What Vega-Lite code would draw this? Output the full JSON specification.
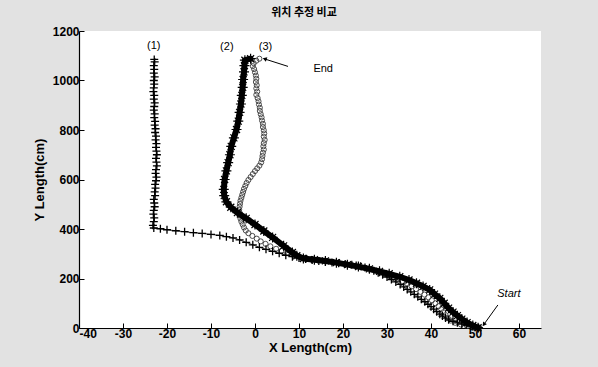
{
"$schema":"https://vega.github.io/schema/vega-lite/v6.json",
"width":462,"height":297,
"autosize":{"type":"none"},
"padding":{"left":79,"top":31,"right":57,"bottom":39},
"background":"#e2e2e2",
"view":{"fill":"white","stroke":null},
"title":{"text":"위치 추정 비교","font":"Noto Sans CJK KR","fontSize":11,"fontWeight":"bold","anchor":"middle","offset":7,"dx":-6,"color":"black"},
"config":{"axis":{"grid":false,"domainColor":"black","domainWidth":1.2,"tickColor":"black","tickSize":-5,"labelColor":"black","labelFont":"Liberation Sans","labelFontSize":12,"labelFontWeight":"bold","labelPadding":5,"labelExpr":"'' + datum.value","titleColor":"black","titleFont":"Liberation Sans","titleFontSize":13,"titleFontWeight":"bold"}},
"datasets":{
"traj":[
{"s":"1","x":50.8,"y":1},{"s":"1","x":50,"y":4},{"s":"1","x":49,"y":8},{"s":"1","x":48,"y":12},{"s":"1","x":47,"y":16},{"s":"1","x":46,"y":21},{"s":"1","x":45,"y":27},{"s":"1","x":44,"y":33},{"s":"1","x":43.3,"y":40},{"s":"1","x":42.6,"y":48},{"s":"1","x":42,"y":56},{"s":"1","x":41.3,"y":66},{"s":"1","x":40.6,"y":76},{"s":"1","x":40,"y":86},{"s":"1","x":39.3,"y":96},{"s":"1","x":38.6,"y":106},{"s":"1","x":37.8,"y":116},{"s":"1","x":37,"y":126},{"s":"1","x":36.2,"y":136},{"s":"1","x":35.4,"y":146},{"s":"1","x":34.6,"y":156},{"s":"1","x":33.8,"y":166},{"s":"1","x":33,"y":176},{"s":"1","x":32,"y":186},{"s":"1","x":31,"y":196},{"s":"1","x":30,"y":206},{"s":"1","x":29,"y":215},{"s":"1","x":28,"y":223},{"s":"1","x":27,"y":231},{"s":"1","x":26,"y":238},{"s":"1","x":25,"y":244},{"s":"1","x":24,"y":249},{"s":"1","x":23,"y":253},{"s":"1","x":22,"y":256},{"s":"1","x":20.5,"y":259},{"s":"1","x":19,"y":262},{"s":"1","x":17.5,"y":265},{"s":"1","x":16,"y":268},{"s":"1","x":14.5,"y":271},{"s":"1","x":13,"y":275},{"s":"1","x":11.5,"y":279},{"s":"1","x":10,"y":283},{"s":"1","x":8.5,"y":288},{"s":"1","x":7,"y":294},{"s":"1","x":5.5,"y":302},{"s":"1","x":4,"y":310},{"s":"1","x":2.5,"y":318},{"s":"1","x":1,"y":326},{"s":"1","x":-0.5,"y":336},{"s":"1","x":-2,"y":346},{"s":"1","x":-3.5,"y":356},{"s":"1","x":-5,"y":364},{"s":"1","x":-6.5,"y":369},{"s":"1","x":-8,"y":374},{"s":"1","x":-10,"y":378},{"s":"1","x":-12,"y":382},{"s":"1","x":-14,"y":385},{"s":"1","x":-16,"y":389},{"s":"1","x":-18,"y":393},{"s":"1","x":-20,"y":397},{"s":"1","x":-21.5,"y":401},{"s":"1","x":-23,"y":404},
{"s":"1","x":-23.2,"y":415},{"s":"1","x":-23,"y":430},{"s":"1","x":-22.9,"y":445},{"s":"1","x":-23.1,"y":460},{"s":"1","x":-23,"y":475},{"s":"1","x":-22.8,"y":490},{"s":"1","x":-22.9,"y":505},{"s":"1","x":-23,"y":520},{"s":"1","x":-22.7,"y":535},{"s":"1","x":-22.8,"y":550},{"s":"1","x":-22.6,"y":565},{"s":"1","x":-22.7,"y":580},{"s":"1","x":-22.5,"y":595},{"s":"1","x":-22.4,"y":610},{"s":"1","x":-22.6,"y":625},{"s":"1","x":-22.5,"y":640},{"s":"1","x":-22.3,"y":655},{"s":"1","x":-22.4,"y":670},{"s":"1","x":-22.5,"y":685},{"s":"1","x":-22.3,"y":700},{"s":"1","x":-22.4,"y":715},{"s":"1","x":-22.5,"y":730},{"s":"1","x":-22.4,"y":745},{"s":"1","x":-22.6,"y":760},{"s":"1","x":-22.5,"y":775},{"s":"1","x":-22.7,"y":790},{"s":"1","x":-22.6,"y":805},{"s":"1","x":-22.8,"y":820},{"s":"1","x":-22.7,"y":835},{"s":"1","x":-22.9,"y":850},{"s":"1","x":-22.8,"y":865},{"s":"1","x":-23,"y":880},{"s":"1","x":-22.9,"y":895},{"s":"1","x":-22.8,"y":910},{"s":"1","x":-23,"y":925},{"s":"1","x":-22.9,"y":940},{"s":"1","x":-23.1,"y":955},{"s":"1","x":-23,"y":970},{"s":"1","x":-22.9,"y":985},{"s":"1","x":-23,"y":1000},{"s":"1","x":-22.8,"y":1015},{"s":"1","x":-23,"y":1030},{"s":"1","x":-22.9,"y":1045},{"s":"1","x":-23,"y":1060},{"s":"1","x":-22.8,"y":1075},{"s":"1","x":-22.9,"y":1085},
{"s":"2","x":50.7,"y":1},{"s":"2","x":49.5,"y":10},{"s":"2","x":48.2,"y":22},{"s":"2","x":47,"y":36},{"s":"2","x":46,"y":50},{"s":"2","x":45,"y":64},{"s":"2","x":44,"y":80},{"s":"2","x":43,"y":100},{"s":"2","x":42,"y":120},{"s":"2","x":40.8,"y":137},{"s":"2","x":39.7,"y":154},{"s":"2","x":38.2,"y":168},{"s":"2","x":36.7,"y":181},{"s":"2","x":35,"y":194},{"s":"2","x":32.9,"y":207},{"s":"2","x":30.5,"y":219},{"s":"2","x":28.3,"y":229},{"s":"2","x":26,"y":239},{"s":"2","x":23.5,"y":248},{"s":"2","x":21,"y":256},{"s":"2","x":18.5,"y":264},{"s":"2","x":16,"y":271},{"s":"2","x":13.5,"y":276},{"s":"2","x":11,"y":281},{"s":"2","x":9.5,"y":292},{"s":"2","x":8.5,"y":305},{"s":"2","x":6.5,"y":332},{"s":"2","x":4,"y":366},{"s":"2","x":2,"y":392},{"s":"2","x":0,"y":418},{"s":"2","x":-2,"y":443},{"s":"2","x":-4,"y":466},{"s":"2","x":-5.5,"y":488},{"s":"2","x":-6.5,"y":510},{"s":"2","x":-7,"y":535},{"s":"2","x":-7.1,"y":560},{"s":"2","x":-6.9,"y":600},{"s":"2","x":-6.5,"y":635},{"s":"2","x":-6.1,"y":668},{"s":"2","x":-5.7,"y":700},{"s":"2","x":-5.4,"y":734},{"s":"2","x":-4.8,"y":768},{"s":"2","x":-4.2,"y":802},{"s":"2","x":-3.8,"y":836},{"s":"2","x":-3.5,"y":871},{"s":"2","x":-3.2,"y":905},{"s":"2","x":-3,"y":940},{"s":"2","x":-2.8,"y":972},{"s":"2","x":-2.7,"y":1004},{"s":"2","x":-2.5,"y":1035},{"s":"2","x":-2.4,"y":1060},{"s":"2","x":-2.3,"y":1082},{"s":"2","x":-1,"y":1088},
{"s":"3","x":1,"y":1088},{"s":"3","x":0.3,"y":1080},{"s":"3","x":-0.3,"y":1070},{"s":"3","x":-0.5,"y":1058},{"s":"3","x":-0.2,"y":1046},{"s":"3","x":0,"y":1033},{"s":"3","x":0.2,"y":1020},{"s":"3","x":0.3,"y":1007},{"s":"3","x":0.2,"y":994},{"s":"3","x":0.4,"y":981},{"s":"3","x":0.3,"y":968},{"s":"3","x":0.5,"y":955},{"s":"3","x":0.3,"y":942},{"s":"3","x":0.6,"y":929},{"s":"3","x":0.8,"y":916},{"s":"3","x":0.9,"y":903},{"s":"3","x":1.1,"y":890},{"s":"3","x":1.1,"y":877},{"s":"3","x":1.3,"y":864},{"s":"3","x":1.5,"y":851},{"s":"3","x":1.6,"y":838},{"s":"3","x":1.8,"y":825},{"s":"3","x":1.8,"y":812},{"s":"3","x":2,"y":799},{"s":"3","x":2.1,"y":786},{"s":"3","x":2,"y":773},{"s":"3","x":2.2,"y":760},{"s":"3","x":2,"y":747},{"s":"3","x":1.9,"y":734},{"s":"3","x":2,"y":721},{"s":"3","x":1.8,"y":708},{"s":"3","x":1.7,"y":695},{"s":"3","x":1.6,"y":682},{"s":"3","x":1.4,"y":669},{"s":"3","x":1,"y":656},{"s":"3","x":0.5,"y":645},{"s":"3","x":0,"y":634},{"s":"3","x":-0.5,"y":622},{"s":"3","x":-1,"y":610},{"s":"3","x":-1.5,"y":598},{"s":"3","x":-1.9,"y":586},{"s":"3","x":-2.2,"y":574},{"s":"3","x":-2.5,"y":562},{"s":"3","x":-2.7,"y":550},{"s":"3","x":-2.9,"y":538},{"s":"3","x":-3.1,"y":526},{"s":"3","x":-3.3,"y":514},{"s":"3","x":-3.4,"y":502},{"s":"3","x":-3.5,"y":490},{"s":"3","x":-3.6,"y":478},{"s":"3","x":-3.5,"y":466},{"s":"3","x":-3.4,"y":454},{"s":"3","x":-3.3,"y":442},{"s":"3","x":-3.1,"y":430},{"s":"3","x":-2.8,"y":418},{"s":"3","x":-2.5,"y":406},{"s":"3","x":-2.1,"y":394},{"s":"3","x":-1.5,"y":383},{"s":"3","x":-0.6,"y":372},{"s":"3","x":0.4,"y":361},{"s":"3","x":1.3,"y":350},{"s":"3","x":2.4,"y":340},{"s":"3","x":3.5,"y":330},{"s":"3","x":4.8,"y":320},{"s":"3","x":6,"y":311},{"s":"3","x":7.3,"y":303},{"s":"3","x":8.7,"y":296},{"s":"3","x":10,"y":290},{"s":"3","x":11.5,"y":284},{"s":"3","x":13,"y":279},{"s":"3","x":14.5,"y":275},{"s":"3","x":16,"y":271},{"s":"3","x":17.5,"y":267},{"s":"3","x":19,"y":263},{"s":"3","x":20.5,"y":259},{"s":"3","x":22,"y":254},{"s":"3","x":23.5,"y":249},{"s":"3","x":25,"y":243},{"s":"3","x":26.5,"y":236},{"s":"3","x":28,"y":228},{"s":"3","x":29.5,"y":219},{"s":"3","x":31,"y":210},{"s":"3","x":32.3,"y":200},{"s":"3","x":33.5,"y":190},{"s":"3","x":34.6,"y":179},{"s":"3","x":35.6,"y":168},{"s":"3","x":36.6,"y":157},{"s":"3","x":37.6,"y":146},{"s":"3","x":38.5,"y":135},{"s":"3","x":39.4,"y":124},{"s":"3","x":40.2,"y":112},{"s":"3","x":41,"y":100},{"s":"3","x":41.7,"y":88},{"s":"3","x":42.3,"y":76},{"s":"3","x":42.8,"y":64},{"s":"3","x":43.3,"y":52},{"s":"3","x":43.8,"y":40},{"s":"3","x":44.5,"y":30},{"s":"3","x":45.5,"y":21},{"s":"3","x":46.8,"y":14},{"s":"3","x":48.2,"y":8},{"s":"3","x":49.6,"y":4},{"s":"3","x":51,"y":1}
],
"notes":[{"x":-23,"y":1140,"t":"(1)"},{"x":-6.4,"y":1136,"t":"(2)"},{"x":2.4,"y":1136,"t":"(3)"},{"x":15.5,"y":1045,"t":"End"},{"x":57.7,"y":136,"t":"Start"}],
"arrows":[{"a":"End","x":7.5,"y":1057,"x2":2.2,"y2":1087},{"a":"Start","x":55.2,"y":93,"x2":52,"y2":14}]
},
"encoding":{
"x":{"field":"x","type":"quantitative","scale":{"domain":[-40,65],"nice":false,"zero":false},"axis":{"values":[-40,-30,-20,-10,0,10,20,30,40,50,60],"title":"X Length(cm)","titlePadding":2}},
"y":{"field":"y","type":"quantitative","scale":{"domain":[0,1200],"nice":false},"axis":{"values":[0,200,400,600,800,1000,1200],"title":"Y Length(cm)","titlePadding":6}}
},
"layer":[
{"data":{"name":"traj"},"transform":[{"filter":"datum.s==='3'"}],"mark":{"type":"point","shape":"circle","filled":false,"stroke":"#3a3a3a","strokeWidth":0.9,"size":26,"opacity":1}},
{"data":{"name":"traj"},"transform":[{"filter":"datum.s==='1'"}],"mark":{"type":"line","stroke":"black","strokeWidth":0.8},"encoding":{"order":{"value":null}}},
{"data":{"name":"traj"},"transform":[{"filter":"datum.s==='1'"}],"mark":{"type":"point","shape":"M-1,0H1M0,-1V1","filled":false,"stroke":"black","strokeWidth":1.3,"size":64,"opacity":1}},
{"data":{"name":"traj"},"transform":[{"filter":"datum.s==='2'"}],"mark":{"type":"line","stroke":"black","strokeWidth":6,"strokeJoin":"round","strokeCap":"round"},"encoding":{"order":{"value":null}}},
{"data":{"name":"traj"},"transform":[{"filter":"datum.s==='2'"}],"mark":{"type":"point","shape":"M-1,0H1M0,-1V1M-0.7,-0.7L0.7,0.7M-0.7,0.7L0.7,-0.7","filled":false,"stroke":"black","strokeWidth":1.2,"size":100,"opacity":1}},
{"data":{"name":"notes"},"transform":[{"filter":"datum.t!=='Start'"}],"mark":{"type":"text","font":"Liberation Sans","fontSize":11,"color":"black"},"encoding":{"text":{"field":"t"}}},
{"data":{"name":"notes"},"transform":[{"filter":"datum.t==='Start'"}],"mark":{"type":"text","font":"Liberation Sans","fontSize":11,"fontStyle":"italic","color":"black"},"encoding":{"text":{"field":"t"}}},
{"data":{"name":"arrows"},"mark":{"type":"rule","color":"black","strokeWidth":1},"encoding":{"x2":{"field":"x2"},"y2":{"field":"y2"}}},
{"data":{"name":"arrows"},"transform":[{"filter":"datum.a==='End'"}],"mark":{"type":"point","shape":"triangle-up","filled":true,"color":"black","size":22,"angle":288,"opacity":1},"encoding":{"x":{"field":"x2","type":"quantitative"},"y":{"field":"y2","type":"quantitative"}}},
{"data":{"name":"arrows"},"transform":[{"filter":"datum.a==='Start'"}],"mark":{"type":"point","shape":"triangle-up","filled":true,"color":"black","size":22,"angle":217,"opacity":1},"encoding":{"x":{"field":"x2","type":"quantitative"},"y":{"field":"y2","type":"quantitative"}}}
]
}
